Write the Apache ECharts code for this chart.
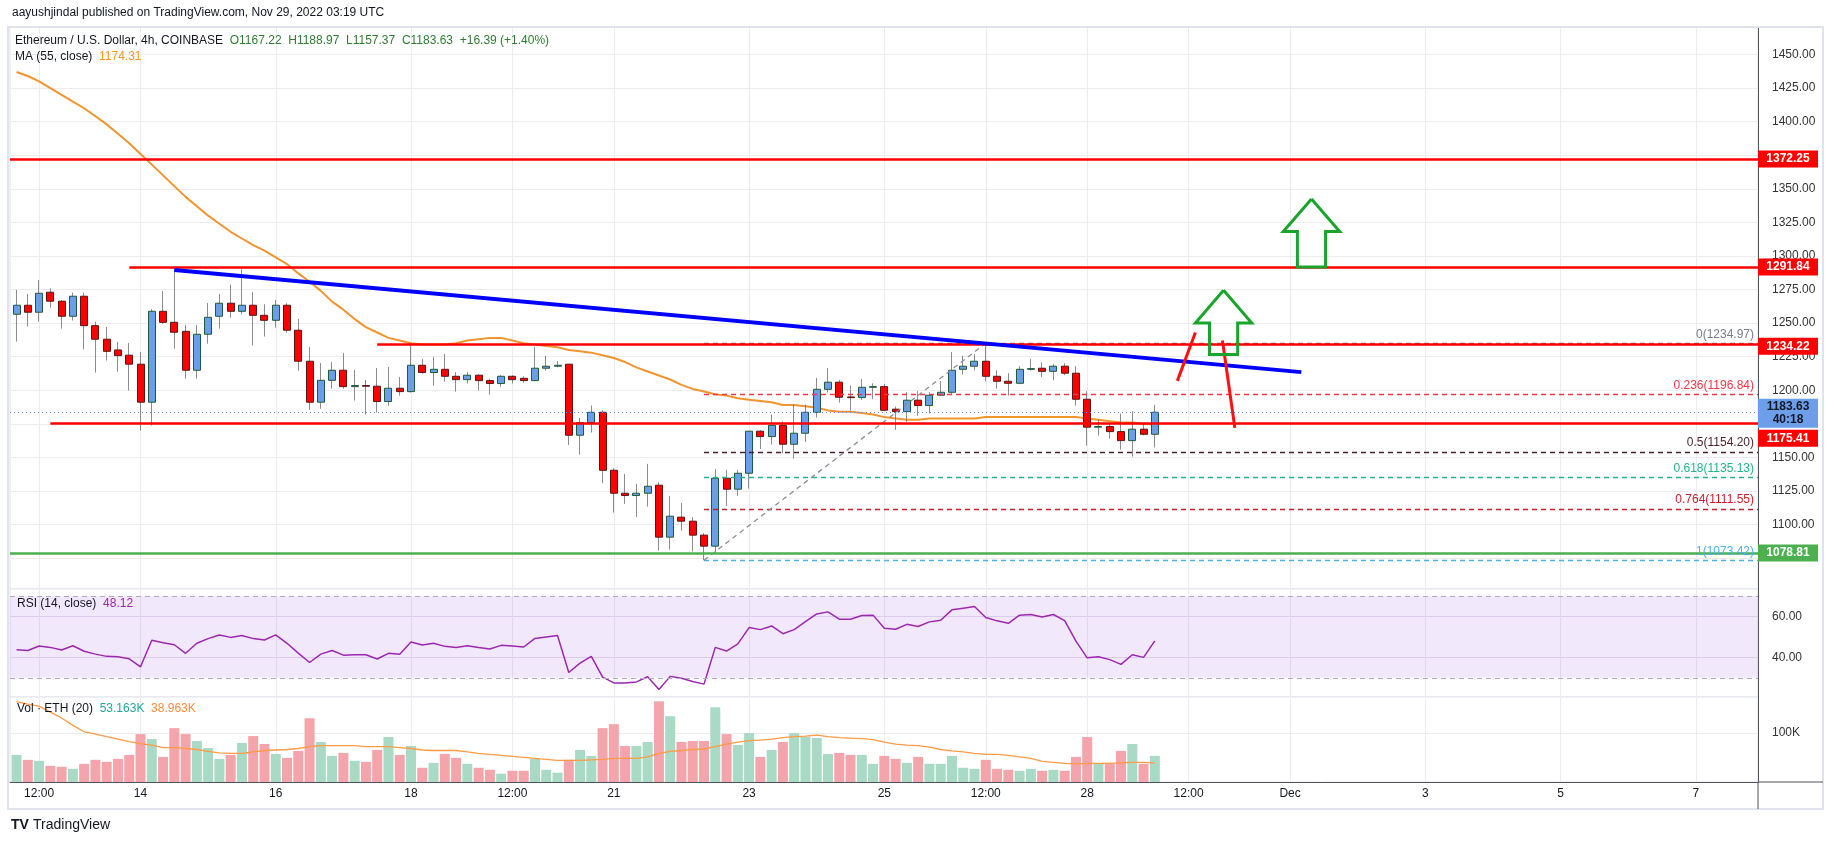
<!DOCTYPE html>
<html>
<head>
<meta charset="utf-8">
<title>ETH/USD 4h</title>
<script src="https://cdn.jsdelivr.net/npm/echarts@6.0.0/dist/echarts.min.js"></script>
<style>
  html, body { margin: 0; padding: 0; background: #fff; }
  #chart { width: 1834px; height: 845px; }
</style>
</head>
<body>
<div id="chart"></div>
<script>
// ETH/USD 4h candles, Nov 12 04:00 .. Nov 29 00:00 UTC (index 0..101)
const candleOpen = [
  1256.6,1263.3,1258.1,1273.0,1266.3,1255.1,1270.0,1248.1,1238.0,1230.0,
  1226.1,1219.4,1191.1,1258.8,1250.6,1243.9,1214.9,1241.7,1255.1,1264.8,
  1258.8,1263.3,1255.8,1252.1,1263.3,1244.7,1221.6,1191.1,1207.4,1214.9,
  1202.7,1203.5,1203.0,1191.6,1201.5,1199.0,1218.6,1213.2,1215.6,1210.4,
  1207.9,1211.2,1207.2,1205.0,1210.4,1208.9,1207.2,1216.4,1217.9,1219.4,
  1166.5,1175.9,1183.6,1140.4,1123.3,1121.6,1123.3,1129.3,1090.6,1105.5,
  1102.5,1092.1,1083.9,1134.5,1126.3,1138.2,1169.5,1165.5,1173.9,1159.8,
  1168.0,1183.6,1200.7,1206.0,1195.0,1194.5,1202.2,1202.7,1185.9,1184.1,
  1192.6,1188.6,1196.3,1198.5,1215.6,1217.9,1221.6,1210.4,1206.7,1205.2,
  1215.6,1216.4,1214.1,1217.9,1212.7,1193.3,1172.5,1173.0,1169.2,1162.5,
  1171.0,1167.22
];
const candleClose = [
  1263.3,1258.1,1272.2,1266.3,1255.1,1270.0,1248.1,1238.0,1229.0,1225.8,
  1219.4,1191.1,1258.8,1250.6,1243.2,1214.9,1241.7,1254.3,1264.8,1258.8,
  1263.3,1255.8,1252.1,1263.3,1244.7,1221.6,1191.1,1207.4,1214.9,1202.7,
  1203.5,1203.0,1191.6,1201.5,1199.0,1218.6,1213.2,1215.6,1210.4,1207.9,
  1211.2,1207.2,1205.0,1210.4,1207.9,1207.2,1216.4,1217.9,1218.6,1166.5,
  1175.9,1183.6,1140.4,1123.3,1121.6,1123.3,1128.5,1090.6,1106.2,1102.5,
  1092.1,1083.9,1134.5,1126.3,1138.2,1169.5,1165.5,1173.9,1159.8,1168.0,
  1183.6,1200.7,1206.0,1194.8,1194.5,1202.2,1202.7,1185.1,1184.1,1192.6,
  1188.6,1196.3,1198.5,1214.9,1217.9,1221.6,1210.4,1206.7,1205.2,1215.6,
  1216.1,1214.1,1217.9,1212.7,1193.3,1172.5,1173.0,1169.2,1162.5,1171.0,
  1167.2,1183.63
];
const candleLow = [
  1236.2,1247.4,1251.1,1261.5,1245.9,1251.9,1230.5,1213.2,1222.1,1213.9,
  1199.8,1170.0,1173.7,1249.5,1231.0,1208.7,1208.7,1234.7,1245.9,1254.1,
  1256.6,1233.3,1240.0,1246.6,1242.9,1214.6,1185.4,1186.1,1201.2,1201.2,
  1192.3,1181.9,1183.4,1188.6,1196.0,1198.3,1212.4,1203.5,1206.5,1199.0,
  1205.0,1199.8,1196.8,1202.7,1205.0,1205.7,1207.0,1214.6,1217.1,1159.3,
  1152.1,1168.5,1130.8,1108.9,1115.4,1105.5,1113.4,1080.6,1081.4,1095.5,
  1079.9,1073.42,1079.2,1113.9,1121.3,1126.8,1156.3,1159.6,1153.1,1149.1,
  1161.5,1179.7,1198.3,1190.8,1184.9,1192.8,1193.3,1184.5,1170.5,1176.4,
  1181.1,1182.6,1196.0,1197.0,1211.7,1214.9,1206.7,1201.2,1196.0,1204.5,
  1214.6,1209.7,1207.4,1211.2,1188.6,1158.8,1166.3,1164.0,1155.8,1150.6,
  1166.5,1157.37
];
const candleHigh = [
  1274.7,1271.7,1282.1,1275.9,1267.2,1272.7,1272.7,1251.1,1247.1,1236.0,
  1235.2,1228.5,1260.3,1273.9,1290.1,1248.6,1248.6,1265.0,1271.7,1278.7,
  1290.1,1273.0,1264.0,1267.2,1264.8,1253.1,1232.3,1220.3,1221.1,1227.8,
  1215.1,1207.7,1216.6,1217.4,1209.9,1233.0,1223.3,1224.8,1227.0,1213.6,
  1213.6,1211.9,1208.7,1211.2,1211.2,1210.4,1232.3,1225.6,1221.8,1219.6,
  1179.4,1188.6,1185.1,1141.9,1137.7,1130.3,1145.2,1131.5,1121.3,1116.1,
  1105.5,1093.6,1141.4,1140.7,1140.7,1169.7,1170.2,1181.9,1176.9,1189.3,
  1189.3,1209.2,1216.6,1207.7,1203.5,1208.4,1205.2,1204.5,1187.8,1198.5,
  1199.3,1198.5,1206.9,1228.5,1225.6,1227.0,1234.97,1214.9,1212.7,1217.9,
  1223.3,1220.8,1219.4,1220.1,1217.9,1199.3,1178.2,1175.4,1182.6,1184.4,
  1175.2,1188.97
];
// MA(55, close)
const ma55 = [
  1437,1434,1430,1425,1420,1415,1410,1404,1398,1391,
  1384,1376,1368,1360,1352,1344,1337,1330,1324,1318,
  1313,1308,1304,1299,1294,1287,1281,1274,1266,1260,
  1253,1247,1243,1239,1237,1235,1234,1234,1234,1235,
  1237,1238,1239,1239,1237,1235,1234,1233,1232,1230,
  1229,1228,1226,1224,1221,1217,1214,1211,1208,1204,
  1201,1199,1197,1196,1194,1193,1192,1191,1189,1189,
  1188,1187,1185,1184,1184,1183,1182,1180,1179,1178,
  1178,1179,1179,1179,1179,1179,1180,1180,1180,1180,
  1180,1180,1180,1180,1180,1179,1178,1177,1176,1176,
  1175,1174.31
];
// RSI(14)
const rsi14 = [
  43.8,43.4,45.6,44.9,43.6,45.7,43.0,41.6,40.5,40.3,
  39.3,35.4,48.4,47.2,46.2,42.0,46.9,49.2,51.0,49.8,
  50.7,49.2,48.5,51.0,46.9,42.1,37.5,41.6,43.4,41.1,
  41.3,41.3,39.2,42.0,41.5,47.5,46.1,46.9,45.4,44.9,
  45.7,44.8,44.1,45.9,45.6,45.1,49.3,50.0,50.7,32.6,
  37.2,40.5,30.3,27.5,27.5,28.0,30.5,24.3,30.7,29.8,
  28.2,26.9,44.9,43.1,46.6,54.6,53.6,55.4,51.6,53.6,
  57.5,61.3,62.3,58.7,58.7,60.5,60.7,54.3,53.8,56.2,
  55.1,57.4,58.2,63.3,64.1,64.9,59.5,57.9,56.7,60.7,
  61.0,59.8,61.0,58.0,48.0,39.8,40.3,38.9,36.6,41.3,
  40.0,48.12
];
// Volume, thousands of ETH
const volume = [
  55.0,45.0,43.0,32.9,30.9,26.8,36.9,45.0,40.9,47.0,
  55.0,97.3,87.2,51.0,109.4,97.3,83.2,69.1,47.0,55.0,
  79.2,93.3,77.2,57.0,49.0,63.1,129.5,81.2,53.0,59.1,
  43.0,40.9,65.1,91.3,55.0,73.2,28.9,38.9,57.0,49.0,
  36.9,28.9,24.8,16.8,22.8,22.8,47.0,24.8,18.8,45.0,
  65.1,53.0,109.4,117.4,73.2,73.2,81.2,163.8,133.6,81.2,
  83.2,83.2,151.7,97.3,75.2,99.3,51.0,65.1,81.2,99.3,
  91.9,89.3,57.0,59.1,55.0,55.0,36.9,53.0,47.0,38.9,
  51.0,36.9,36.9,53.0,28.9,26.8,45.0,26.8,24.8,22.8,
  26.8,22.8,24.8,22.8,51.0,91.3,36.9,36.9,63.1,77.2,
  36.9,53.163
];
const volumeMa = [
  163,158,154,142,130,115,102,97,92,87,
  82,78,75,70,70,68,66,62,59,58,
  58,61,64,65,66,68,72,74,74,74,
  74,72,72,72,70,68,65,64,64,64,
  61,58,56,54,52,50,48,46,44,44,
  44,45,46,48,48,48,51,58,62,64,
  66,67,72,77,81,84,85,87,90,92,
  93,95,92,90,89,88,86,81,77,75,
  74,71,66,63,61,58,56,56,54,51,
  48,42,40,38,37,38,38,38,39,40,
  40,38.963
];

// time axis ticks (candle index -> label)
const xTickIdx = [2, 11, 23, 35, 44, 53, 65, 77, 86, 95, 104, 113, 125, 137, 149];
const xTickText = ['12:00', '14', '16', '18', '12:00', '21', '23', '25', '12:00', '28', '12:00', 'Dec', '3', '5', '7'];
const priceGrid = [1075, 1100, 1125, 1150, 1175, 1200, 1225, 1250, 1275, 1300, 1325, 1350, 1375, 1400, 1425, 1450];
const priceTickLabels = [1100, 1125, 1150, 1200, 1225, 1250, 1275, 1300, 1325, 1350, 1400, 1425, 1450];

// drawings
const hLevels = [1372.25, 1291.84, 1234.22, 1175.41];
const hLevelStart = [-0.58, 10, 32, 3];
const supportLevel = 1078.81;
const lastPrice = 1183.63;
const trendLine = [[14, 1289.6], [114, 1213.5]];
const fibRatio = ['0', '0.236', '0.5', '0.618', '0.764', '1'];
const fibPrice = [1234.97, 1196.84, 1154.20, 1135.13, 1111.55, 1073.42];
const fibColor = ['#787b86', '#f23645', '#4a1f2a', '#22b38f', '#d01c2a', '#4fb0e8'];
const fibStart = 61;
const fibDiagonal = [[61, 1073.42], [86, 1234.97]];
const redStrokes = [
  [[103.0, 1207], [104.6, 1243]],
  [[107.0, 1237], [108.1, 1172]]
];
const upArrows = [
  { x: 114.9, halfHead: 2.5, halfShaft: 1.25, top: 1342.4, neck: 1318.2, bottom: 1291.8 },
  { x: 107.1, halfHead: 2.5, halfShaft: 1.25, top: 1274.5, neck: 1250.1, bottom: 1226.6 }
];

const X_MIN = -0.58, X_MAX = 154.52;
const FONT = "'Liberation Sans', Arial, sans-serif";
const idx = candleOpen.map((_, i) => i);

const chart = echarts.init(document.getElementById('chart'));

function xAxis(gridIndex) {
  return {
    type: 'value', gridIndex, min: X_MIN, max: X_MAX,
    axisLine: { show: gridIndex === 2, onZero: false, lineStyle: { color: '#50535e' } },
    axisTick: { show: false, customValues: xTickIdx },
    axisLabel: {
      show: gridIndex === 2, customValues: xTickIdx, margin: 6,
      color: '#131722', fontSize: 12, fontFamily: FONT,
      formatter: v => xTickText[xTickIdx.indexOf(v)] || ''
    },
    splitLine: { show: true, lineStyle: { color: '#ececee' } }
  };
}

const hLine = (x0, p, color, width, type) => [
  { coord: [x0, p], lineStyle: { color, width, type: type || 'solid' } },
  { coord: [X_MAX, p] }
];

const markLines = [];
// fib levels first (under the red lines)
fibPrice.forEach((p, k) => {
  markLines.push([
    { coord: [fibStart, p], lineStyle: { color: fibColor[k], width: 1.3, type: [5, 4] },
      label: { show: true, position: 'insideEndTop', distance: [4, 3], color: fibColor[k],
               fontSize: 12, fontFamily: FONT,
               formatter: fibRatio[k] + '(' + p.toFixed(2) + ')' } },
    { coord: [X_MAX, p] }
  ]);
});
markLines.push([
  { coord: fibDiagonal[0], lineStyle: { color: '#8a8d96', width: 1.3, type: [5, 4] } },
  { coord: fibDiagonal[1] }
]);
markLines.push(hLine(X_MIN, lastPrice, '#5b8def', 1, [1, 3]));
hLevels.forEach((p, k) => markLines.push(hLine(hLevelStart[k], p, '#ff0000', 2.5)));
markLines.push(hLine(X_MIN, supportLevel, '#4caf50', 2.5));
markLines.push([
  { coord: trendLine[0], lineStyle: { color: '#0000ff', width: 4, type: 'solid' } },
  { coord: trendLine[1] }
]);
redStrokes.forEach(s => markLines.push([
  { coord: s[0], lineStyle: { color: '#ff1010', width: 3, type: 'solid' } },
  { coord: s[1] }
]));

const priceBox = (p, text, bg, fg, dy, h) => ({
  coord: [X_MAX, p], symbol: 'rect', symbolSize: [60, h || 17], symbolOffset: [30, dy || 0],
  itemStyle: { color: bg },
  label: { show: true, position: 'inside', formatter: text, color: fg, fontSize: 12,
           fontWeight: 'bold', fontFamily: FONT, lineHeight: 13 }
});
const boxes = [
  priceBox(1372.25, '1372.25', '#ff0000', '#fff'),
  priceBox(1291.84, '1291.84', '#ff0000', '#fff'),
  priceBox(1234.22, '1234.22', '#ff0000', '#fff', 2),
  priceBox(lastPrice, '1183.63\n40:18', '#6d9eea', '#131722', 1, 29),
  priceBox(1175.41, '1175.41', '#ff0000', '#fff', 15),
  priceBox(supportLevel, '1078.81', '#4caf50', '#fff')
];

const arrowSeries = upArrows.map(a => ({
  type: 'line', xAxisIndex: 0, yAxisIndex: 0, symbol: 'none', z: 6, silent: true,
  lineStyle: { color: '#19a52c', width: 3, join: 'miter' },
  data: [
    [a.x, a.top], [a.x + a.halfHead, a.neck], [a.x + a.halfShaft, a.neck],
    [a.x + a.halfShaft, a.bottom], [a.x - a.halfShaft, a.bottom],
    [a.x - a.halfShaft, a.neck], [a.x - a.halfHead, a.neck], [a.x, a.top]
  ]
}));

const gridBase = { left: 10, right: 76, show: true, borderColor: '#e0e3eb', borderWidth: 1, backgroundColor: '#fff' };

const yLine = { show: true, onZero: false, lineStyle: { color: '#50535e' } };

const option = {
  animation: false,
  backgroundColor: '#ffffff',
  textStyle: { fontFamily: FONT },
  grid: [
    Object.assign({ top: 27, height: 562 }, gridBase),
    Object.assign({ top: 589, height: 108 }, gridBase),
    Object.assign({ top: 697, height: 85 }, gridBase)
  ],
  xAxis: [xAxis(0), xAxis(1), xAxis(2)],
  yAxis: [
    {
      type: 'value', gridIndex: 0, position: 'right', min: 1052, max: 1470.5,
      axisLine: yLine,
      axisTick: { show: false, customValues: priceGrid },
      axisLabel: {
        customValues: priceTickLabels, margin: 14, fontSize: 12, fontFamily: FONT,
        color: v => (v === 1450 ? '#9598a1' : '#333'),
        formatter: v => v.toFixed(2)
      },
      splitLine: { lineStyle: { color: '#ececee' } }
    },
    {
      type: 'value', gridIndex: 1, position: 'right', min: 20.6, max: 73.5,
      axisLine: yLine,
      axisTick: { show: false, customValues: [40, 60] },
      axisLabel: { customValues: [40, 60], margin: 14, fontSize: 12, fontFamily: FONT, color: '#333',
                   formatter: v => v.toFixed(2) },
      splitLine: { lineStyle: { color: '#e4e0ea' } }
    },
    {
      type: 'value', gridIndex: 2, position: 'right', min: 0, max: 172.6,
      axisLine: yLine,
      axisTick: { show: false, customValues: [100] },
      axisLabel: { customValues: [100], margin: 14, fontSize: 12, fontFamily: FONT, color: '#333',
                   formatter: v => v + 'K' },
      splitLine: { lineStyle: { color: '#ececee' } }
    }
  ],
  series: [
    {
      name: 'wicks', type: 'candlestick', xAxisIndex: 0, yAxisIndex: 0, barWidth: 1, z: 3,
      itemStyle: { color: '#6f6f6f', color0: '#6f6f6f', borderColor: '#6f6f6f', borderColor0: '#6f6f6f', borderWidth: 0.8 },
      data: idx.map(i => [i, candleOpen[i], candleClose[i], candleLow[i], candleHigh[i]])
    },
    {
      name: 'bodies', type: 'candlestick', xAxisIndex: 0, yAxisIndex: 0, barWidth: 7.5, z: 4,
      itemStyle: { color: '#6b9ee8', color0: '#ff0000', borderColor: '#1f5a3a', borderColor0: '#5c1414', borderWidth: 1 },
      data: idx.map(i => [i, candleOpen[i], candleClose[i],
        Math.min(candleOpen[i], candleClose[i]), Math.max(candleOpen[i], candleClose[i])])
    },
    {
      name: 'MA 55', type: 'line', xAxisIndex: 0, yAxisIndex: 0, symbol: 'none', z: 2,
      lineStyle: { color: '#f0952e', width: 2 },
      data: idx.map(i => [i, ma55[i]])
    },
    {
      name: 'drawings', type: 'line', xAxisIndex: 0, yAxisIndex: 0, data: [], z: 5, clip: false,
      markLine: { symbol: ['none', 'none'], silent: true, animation: false, label: { show: false }, data: markLines },
      markPoint: { silent: true, animation: false, data: boxes }
    },
    ...arrowSeries,
    {
      name: 'RSI', type: 'line', xAxisIndex: 1, yAxisIndex: 1, symbol: 'none', z: 3,
      lineStyle: { color: '#9c27b0', width: 1.5 },
      data: idx.map(i => [i, rsi14[i]]),
      markArea: {
        silent: true, itemStyle: { color: 'rgba(155, 80, 230, 0.13)' },
        data: [[{ coord: [X_MIN, 30] }, { coord: [X_MAX, 70] }]]
      },
      markLine: {
        symbol: ['none', 'none'], silent: true, label: { show: false },
        lineStyle: { color: '#b3a9bf', type: [5, 4], width: 1 },
        data: [[{ coord: [X_MIN, 70] }, { coord: [X_MAX, 70] }], [{ coord: [X_MIN, 30] }, { coord: [X_MAX, 30] }]]
      }
    },
    {
      name: 'Volume', type: 'bar', xAxisIndex: 2, yAxisIndex: 2, barWidth: 10, z: 2,
      data: idx.map(i => ({
        value: [i, volume[i]],
        itemStyle: { color: candleClose[i] >= candleOpen[i] ? '#a8dac5' : '#f4a5ab' }
      }))
    },
    {
      name: 'Volume MA', type: 'line', xAxisIndex: 2, yAxisIndex: 2, symbol: 'none', z: 3,
      lineStyle: { color: '#ff9a45', width: 1.3 },
      data: idx.map(i => [i, volumeMa[i]])
    }
  ],
  graphic: [
    { type: 'rect', silent: true, z: 100, shape: { x: 8, y: 27, width: 1815, height: 782 },
      style: { fill: 'none', stroke: '#e0e3eb', lineWidth: 2 } },
    { type: 'line', silent: true, z: 100, shape: { x1: 1758, y1: 782, x2: 1758, y2: 809 },
      style: { stroke: '#50535e', lineWidth: 1 } },
    { type: 'line', silent: true, z: 100, shape: { x1: 1758, y1: 782, x2: 1823, y2: 782 },
      style: { stroke: '#50535e', lineWidth: 1 } },
    { type: 'text', left: 12, top: 7, silent: true,
      style: { text: 'aayushjindal published on TradingView.com, Nov 29, 2022 03:19 UTC',
               font: '12px ' + FONT, fill: '#131722' } },
    { type: 'text', left: 15, top: 35, silent: true, z: 50,
      style: {
        text: '{a|Ethereum / U.S. Dollar, 4h, COINBASE}  {b|O1167.22}  {b|H1188.97}  {b|L1157.37}  {b|C1183.63}  {b|+16.39 (+1.40%)}',
        font: '12px ' + FONT,
        rich: { a: { fill: '#131722', font: '12px ' + FONT }, b: { fill: '#2e7d32', font: '12px ' + FONT } }
      } },
    { type: 'text', left: 15, top: 51, silent: true, z: 50,
      style: {
        text: '{a|MA (55, close)}  {b|1174.31}',
        font: '12px ' + FONT,
        rich: { a: { fill: '#131722', font: '12px ' + FONT }, b: { fill: '#f0952e', font: '12px ' + FONT } }
      } },
    { type: 'text', left: 17, top: 598, silent: true, z: 50,
      style: {
        text: '{a|RSI (14, close)}  {b|48.12}',
        font: '12px ' + FONT,
        rich: { a: { fill: '#131722', font: '12px ' + FONT }, b: { fill: '#9c27b0', font: '12px ' + FONT } }
      } },
    { type: 'text', left: 17, top: 703, silent: true, z: 50,
      style: {
        text: '{a|Vol · ETH (20)}  {b|53.163K}  {c|38.963K}',
        font: '12px ' + FONT,
        rich: { a: { fill: '#131722', font: '12px ' + FONT }, b: { fill: '#26a69a', font: '12px ' + FONT },
                c: { fill: '#ff8a3d', font: '12px ' + FONT } }
      } },
    { type: 'text', left: 11, top: 818, silent: true,
      style: { text: 'TV', font: 'bold 14px ' + FONT, fill: '#131722' } },
    { type: 'text', left: 33, top: 818, silent: true,
      style: { text: 'TradingView', font: '14px ' + FONT, fill: '#131722' } }
  ]
};

chart.setOption(option);
</script>
</body>
</html>
